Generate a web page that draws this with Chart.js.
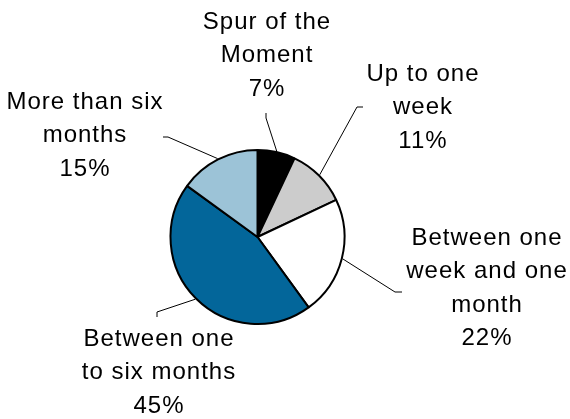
<!DOCTYPE html>
<html>
<head>
<meta charset="utf-8">
<script src="https://cdn.jsdelivr.net/npm/chart.js@4/dist/chart.umd.min.js"></script>
<style>
  html, body { margin: 0; padding: 0; background: #fff; }
  #wrap { width: 570px; height: 419px; }
</style>
</head>
<body>
<div id="wrap"><canvas id="chart"></canvas></div>
<script>
const labels = [
  ['Spur of the', 'Moment'],
  ['Up to one', 'week'],
  ['Between one', 'week and one', 'month'],
  ['Between one', 'to six months'],
  ['More than six', 'months'],
];
const shares = [7, 11, 22, 45, 15];
const colors = ['#000000', '#cccccc', '#ffffff', '#03669a', '#9cc3d7'];

// where each callout sits: text centre x, first line y, elbow and tick end of the leader
const callouts = [
  { x: 267, y: 22, elbow: [266, 118], end: [266, 113] },
  { x: 423, y: 74, elbow: [357, 107], end: [363, 107] },
  { x: 487, y: 238, elbow: [395, 292], end: [402, 292] },
  { x: 159, y: 339, elbow: [157, 312], end: [157, 317] },
  { x: 85, y: 102, elbow: [168, 137], end: [163, 137] },
];

const calloutPlugin = {
  id: 'callouts',
  afterDatasetsDraw(chart) {
    const { ctx } = chart;
    const meta = chart.getDatasetMeta(0);
    const total = shares.reduce((a, b) => a + b, 0);
    ctx.save();
    meta.data.forEach((arc, i) => {
      const c = callouts[i];
      const mid = (arc.startAngle + arc.endAngle) / 2;
      const r = arc.outerRadius + 1;
      ctx.strokeStyle = '#000';
      ctx.lineWidth = 1;
      ctx.beginPath();
      ctx.moveTo(arc.x + Math.cos(mid) * r, arc.y + Math.sin(mid) * r);
      ctx.lineTo(c.elbow[0], c.elbow[1]);
      ctx.lineTo(c.end[0], c.end[1]);
      ctx.stroke();

      const lines = [...labels[i], Math.round(shares[i] / total * 100) + '%'];
      ctx.fillStyle = '#000';
      ctx.font = '24px "Liberation Sans", Arial, sans-serif';
      ctx.letterSpacing = '1px';
      ctx.textAlign = 'center';
      ctx.textBaseline = 'middle';
      lines.forEach((t, k) => ctx.fillText(t, c.x, c.y + k * 33.5));
    });
    ctx.restore();
  },
};

new Chart(document.getElementById('chart'), {
  type: 'pie',
  data: {
    labels,
    datasets: [
      {
        data: shares,
        backgroundColor: colors,
        borderColor: '#000',
        borderWidth: 2,
        hoverBorderWidth: 2,
        hoverOffset: 0,
      },
    ],
  },
  options: {
    responsive: true,
    maintainAspectRatio: false,
    animation: false,
    radius: 87,
    layout: { padding: { left: 0, right: 55, top: 55, bottom: 0 } },
    plugins: {
      legend: { display: false },
      tooltip: { enabled: false },
    },
  },
  plugins: [calloutPlugin],
});
</script>
</body>
</html>
